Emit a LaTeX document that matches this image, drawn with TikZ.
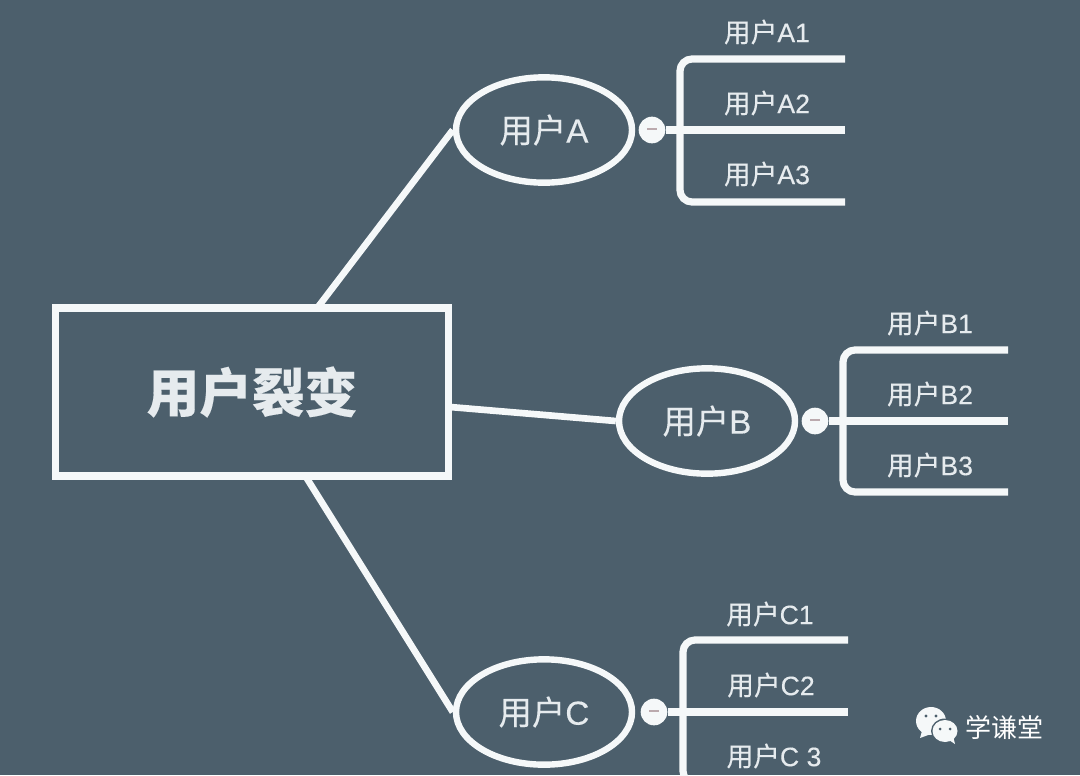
\documentclass[tikz,border=0pt]{standalone}
\usepackage{fontspec}
\usetikzlibrary{shapes.geometric}
\setmainfont[FakeBold=0.25]{Noto Sans CJK SC}
\newfontfamily\cjkplain{Noto Sans CJK SC}
\newfontfamily\lat[FakeBold=0.25]{Liberation Sans}
\definecolor{bgc}{HTML}{4C5F6C}
\definecolor{inkc}{HTML}{F5F8F9}
\definecolor{labelc}{HTML}{E6EBEE}
\definecolor{dashc}{HTML}{BBAAAE}
\tikzset{
  rootbox/.style={draw=inkc,line width=5.4pt,fill=bgc,inner sep=0pt,minimum width=295pt,minimum height=126pt,text=labelc,font=\fontsize{39.5}{39.5}\selectfont\bfseries},
  useroval/.style={ellipse,draw=inkc,line width=4.8pt,fill=bgc,inner sep=0pt,minimum width=132pt,minimum height=79pt,text=labelc,font=\fontsize{25}{25}\selectfont},
  link/.style={draw=inkc,line width=5pt},
  branch/.style={draw=inkc,line width=5.4pt,rounded corners=9pt},
  subtext/.style={text=labelc,inner sep=0pt,font=\fontsize{20}{20}\selectfont},
  fold/.style={circle,fill=inkc,inner sep=0pt,minimum size=20pt},
  markc/.style={text=white,inner sep=0pt,font=\cjkplain\fontsize{19.5}{19.5}\selectfont}
}
\newcommand{\dashmark}{\textcolor{dashc}{\rule[1pt]{7pt}{1.6pt}}}
\begin{document}
\begin{tikzpicture}[x=0.75pt,y=-0.75pt]
\useasboundingbox[fill=bgc] (0,0) rectangle (1080,775);
% group A
\node[subtext] (a1) at (767,32) {用户{\lat A1}};
\node[subtext] (a2) at (767,103) {用户{\lat A2}};
\node[subtext] (a3) at (767,174) {用户{\lat A3}};
\coordinate (a1e) at (845,59);
\coordinate (a2e) at (845,130);
\coordinate (a3e) at (845,202);
\coordinate (a0) at (680,130);
\node[useroval] (ua) at (544,130) {用户{\lat A}};
\node[fold] (fa) at (652,130) {\dashmark};
\draw[branch] (a1e) -- (a0 |- a1e) -- (a0 |- a3e) -- (a3e);
\draw[link,line width=5.4pt] (fa) -- (a2e);
% group B
\node[subtext] (b1) at (930,323) {用户{\lat B1}};
\node[subtext] (b2) at (930,394) {用户{\lat B2}};
\node[subtext] (b3) at (930,465) {用户{\lat B3}};
\coordinate (b1e) at (1008,350);
\coordinate (b2e) at (1008,421);
\coordinate (b3e) at (1008,492);
\coordinate (b0) at (843,421);
\node[useroval] (ub) at (707,421) {用户{\lat B}};
\node[fold] (fb) at (815,421) {\dashmark};
\draw[branch] (b1e) -- (b0 |- b1e) -- (b0 |- b3e) -- (b3e);
\draw[link,line width=5.4pt] (fb) -- (b2e);
% group C
\node[subtext] (c1) at (770,614) {用户{\lat C1}};
\node[subtext] (c2) at (771,685) {用户{\lat C2}};
\node[subtext] (c3) at (774,756) {用户{\lat C 3}};
\coordinate (c1e) at (848,640);
\coordinate (c2e) at (848,712);
\coordinate (c3e) at (848,783);
\coordinate (c0) at (683,712);
\node[useroval] (uc) at (544,712) {用户{\lat C}};
\node[fold] (fc) at (654,712) {\dashmark};
\draw[branch] (c1e) -- (c0 |- c1e) -- (c0 |- c3e) -- (c3e);
\draw[link,line width=5.4pt] (fc) -- (c2e);
% root
\node[rootbox] (root) at (252,392) {\raisebox{1pt}{用户裂变}};
\coordinate (ra) at (318,307);
\coordinate (rb) at (450,407);
\coordinate (rc) at (306,477);
\draw[link] (ra) -- (ua.west);
\draw[link] (rb) -- (ub.west);
\draw[link] (rc) -- (uc.west);
% watermark
\node[markc] (mark) at (1004,727) {学谦堂};
\fill[inkc] (931,721) ellipse (15 and 14);
\fill[inkc] (922,731) -- (920,738) -- (931,734) -- cycle;
\fill[bgc] (945,731) ellipse (14 and 12.5);
\fill[inkc] (945,731) ellipse (12.5 and 11);
\fill[inkc] (949,740) -- (955,744) -- (953,736) -- cycle;
\fill[bgc] (926,716) circle (1.7);
\fill[bgc] (936,716) circle (1.7);
\fill[bgc] (940,729) circle (1.5);
\fill[bgc] (950,729) circle (1.5);
\end{tikzpicture}
\end{document}
